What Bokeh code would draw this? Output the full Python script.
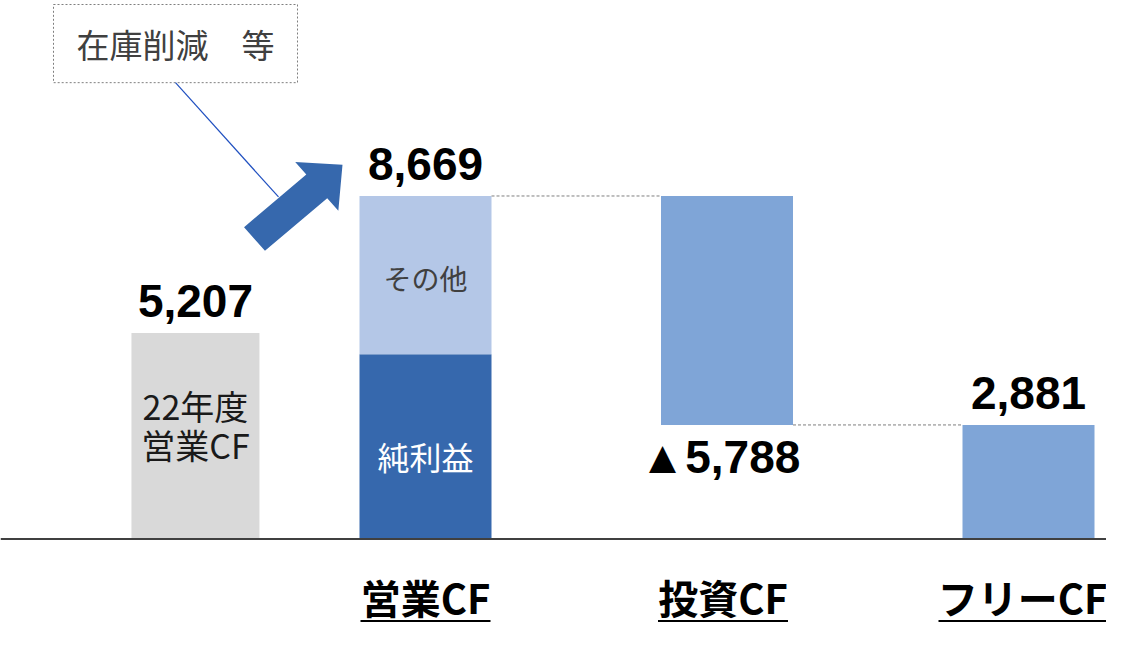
import math
from bokeh.plotting import figure
from bokeh.models import Range1d, ColumnDataSource, Span
from bokeh.core.properties import value
from bokeh.embed import file_html
from bokeh.resources import INLINE

# ---------------- data ----------------
prev_op_cf = 5207          # 22年度 営業CF
op_cf = 8669               # 営業CF
net_income = 4670          # 純利益 portion
other_op = op_cf - net_income   # その他 portion
inv_cf = -5788             # 投資CF
free_cf = 2881             # フリーCF
category_labels = ["営業CF", "投資CF", "フリーCF"]
prev_labels = ["22年度", "営業CF"]
segment_labels = ["純利益", "その他"]
callout_text = "在庫削減　等"

# ---------------- layout ----------------
W, H = 1106, 631
PX_PER_CAT = 301.5                 # pixels between category centres
SY = 0.977                         # vertical squeeze so all fits
BASE = 4 + (562 - 15) * SY         # frame y of the zero line
U = 8669 / (351 * SY)              # data units per pixel (vertical)
x_start = 1 - 425 / PX_PER_CAT
x_end = x_start + W / PX_PER_CAT
y_end = BASE * U
y_start = y_end - H * U


def X(rx):
    return x_start + rx / PX_PER_CAT


def Y(ry):
    return (BASE - (4 + (ry - 15) * SY)) * U


x_prev, x_op, x_inv, x_free = 0.237, 1.0, 2.0, 3.0
w_prev = 128 / PX_PER_CAT
w = 132 / PX_PER_CAT

GRAY = "#D9D9D9"
DARK = "#3668AD"
LIGHT = "#B4C7E7"
MID = "#7FA5D7"

p = figure(width=W, height=H, x_range=Range1d(x_start, x_end), y_range=Range1d(y_start, y_end),
           output_backend="svg", toolbar_location=None, min_border=0,
           x_axis_location=None, y_axis_location=None)
p.grid.visible = False
p.outline_line_color = None
p.background_fill_color = "white"

# bars
p.vbar(x=[x_prev], width=w_prev, bottom=[0], top=[prev_op_cf], fill_color=GRAY, line_color=None)
p.vbar(x=[x_op], width=w, bottom=[0], top=[net_income], fill_color=DARK, line_color=None)
p.vbar(x=[x_op], width=w, bottom=[net_income], top=[net_income + other_op], fill_color=LIGHT, line_color=None)
p.vbar(x=[x_inv], width=w, bottom=[op_cf + inv_cf], top=[op_cf], fill_color=MID, line_color=None)
p.vbar(x=[x_free], width=w, bottom=[0], top=[free_cf], fill_color=MID, line_color=None)

# connectors
p.segment(x0=[x_op + w / 2, x_inv + w / 2], y0=[op_cf, op_cf + inv_cf],
          x1=[x_inv - w / 2, x_free - w / 2], y1=[op_cf, free_cf],
          line_color="#7F7F7F", line_width=1, line_dash="3 2")

# zero line
p.add_layout(Span(location=0, dimension="width", line_color="#404040", line_width=2))

# value labels
num_font = value("Liberation Sans")
above = ColumnDataSource(dict(x=[x_prev, x_op, x_free],
                              y=[prev_op_cf, op_cf, free_cf],
                              t=[f"{prev_op_cf:,}", f"{op_cf:,}", f"{free_cf:,}"]))
p.text(x="x", y="y", text="t", source=above, text_font=num_font, text_font_style="bold",
       text_font_size="46px", text_color="black", text_align="center",
       text_baseline="alphabetic", y_offset=-32)
p.text(x=[x_inv], y=[op_cf + inv_cf], text=[f"▲{abs(inv_cf):,}"], text_font=num_font,
       text_font_style="bold", text_font_size="46px", text_color="black", text_align="center",
       text_baseline="alphabetic", y_offset=32, x_offset=-7)

# in-bar labels
cjk = value("Noto Sans CJK JP")
p.text(x=[x_prev, x_prev], y=[prev_op_cf / 2, prev_op_cf / 2], text=prev_labels, text_font=cjk,
       text_font_size="34px", text_color="#1A1A1A", text_align="center", text_baseline="middle",
       y_offset=[-30, 9])
p.text(x=[x_op], y=[net_income / 2], text=[segment_labels[0]], text_font=cjk,
       text_font_size="32px", text_color="white", text_align="center", text_baseline="middle",
       y_offset=9)
p.text(x=[x_op], y=[net_income + other_op / 2], text=[segment_labels[1]], text_font=cjk,
       text_font_size="28px", text_color="#404040", text_align="center", text_baseline="middle",
       y_offset=3)

# category labels with underline
cat_x = [x_op, x_inv, x_free]
cat_dx = [0, -4, -6]
p.text(x=cat_x, y=[0, 0, 0], text=category_labels, text_font=cjk, text_font_style="bold",
       text_font_size="40px", text_color="black", text_align="center", text_baseline="middle",
       y_offset=58, x_offset=cat_dx)
half_w_px = [65, 65, 84]
uy = -82 * U
p.segment(x0=[c + (d - h) / PX_PER_CAT for c, d, h in zip(cat_x, cat_dx, half_w_px)], y0=[uy] * 3,
          x1=[c + (d + h) / PX_PER_CAT for c, d, h in zip(cat_x, cat_dx, half_w_px)], y1=[uy] * 3,
          line_color="black", line_width=2)

# callout box
p.quad(left=[X(53)], right=[X(297)], top=[Y(15)], bottom=[Y(95)], fill_color="white",
       line_color="#7F7F7F", line_width=1, line_dash="2 2")
p.text(x=[X(175)], y=[Y(55)], text=[callout_text], text_font=cjk, text_font_size="33px",
       text_color="#404040", text_align="center", text_baseline="middle")
p.line(x=[X(175), X(278)], y=[Y(95), Y(212)], line_color="#2050C0", line_width=1.2)

# block arrow (geometry in reference pixels)
tx, ty = 254, 255
px_, py_ = 342, 179
L = math.hypot(px_ - tx, py_ - ty)
ux, uy_ = (px_ - tx) / L, (py_ - ty) / L
nx, ny = -uy_, ux
sw, hw, hl = 16, 33, 34
bx, by = px_ - ux * hl, py_ - uy_ * hl
pts = [(tx + nx * sw, ty + ny * sw), (bx + nx * sw, by + ny * sw), (bx + nx * hw, by + ny * hw),
       (px_, py_), (bx - nx * hw, by - ny * hw), (bx - nx * sw, by - ny * sw),
       (tx - nx * sw, ty - ny * sw)]
p.patch(x=[X(a) for a, b in pts], y=[Y(b) for a, b in pts], fill_color=DARK, line_color=None)

open("out.html", "w").write(file_html(p, INLINE))
